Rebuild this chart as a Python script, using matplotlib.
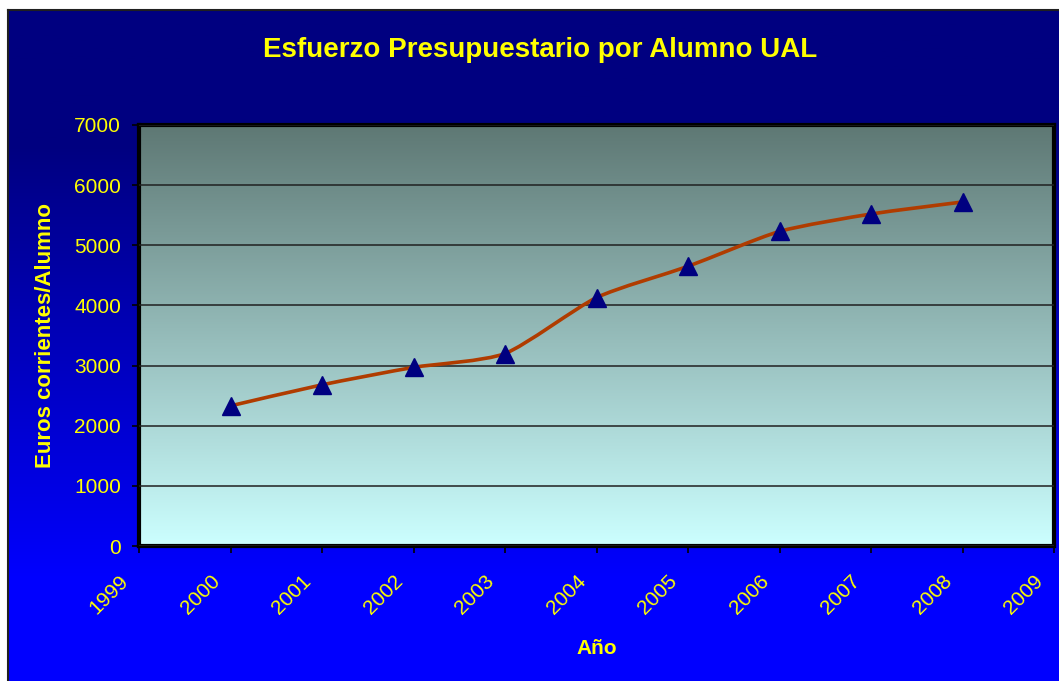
import numpy as np
import matplotlib
matplotlib.use("Agg")
import matplotlib.pyplot as plt
import matplotlib.transforms as mtransforms
from matplotlib.path import Path
from matplotlib.patches import PathPatch
from matplotlib.colors import LinearSegmentedColormap

plt.rcParams['font.family'] = ['Liberation Sans', 'DejaVu Sans']

# Datos
years = [2000, 2001, 2002, 2003, 2004, 2005, 2006, 2007, 2008]
euros = [2330, 2680, 2970, 3200, 4130, 4650, 5230, 5520, 5720]
yticks = [0, 1000, 2000, 3000, 4000, 5000, 6000, 7000]
xticks = list(range(1999, 2010))

YELLOW = '#FFFF00'
LINE = '#B03C00'
MARK = '#000080'

W, H = 1059, 681
fig = plt.figure(figsize=(W / 100, H / 100), dpi=100)
fig.patch.set_facecolor('white')

# fondo degradado de la figura
bg = fig.add_axes([8 / W, 0, 1 - 8 / W, (H - 10) / H], zorder=-5)
bg_cmap = LinearSegmentedColormap.from_list('bg', [(0, '#000080'), (0.2, '#000080'), (0.85, '#0000FF'), (1, '#0000FF')])
bg.imshow(np.linspace(0, 1, 256).reshape(-1, 1), cmap=bg_cmap, aspect='auto', extent=[0, 1, 1, 0])
bg.set_xlim(0, 1)
bg.set_ylim(1, 0)
for s in ['top', 'left']:
    bg.spines[s].set_color('#202020')
    bg.spines[s].set_linewidth(1.5)
for s in ['bottom', 'right']:
    bg.spines[s].set_visible(False)
bg.set_xticks([])
bg.set_yticks([])

# area del grafico
left, right, top, bottom = 139, 1054, 125, 546
ax = fig.add_axes([left / W, (H - bottom) / H, (right - left) / W, (bottom - top) / H])
pa_cmap = LinearSegmentedColormap.from_list('pa', ['#5E7874', '#CCFFFF'])
ax.imshow(np.linspace(0, 1, 256).reshape(-1, 1), cmap=pa_cmap, aspect='auto',
          extent=[0, 1, 0, 1], origin='upper', transform=ax.transAxes, zorder=0)

ax.set_xlim(1999, 2009)
ax.set_ylim(0, 7000)
ax.set_yticks(yticks)
ax.set_xticks(xticks)
ax.grid(axis='y', color='#202020', linewidth=1.1, zorder=1)
ax.set_axisbelow(False)

# linea suavizada (Catmull-Rom en Bezier)
pts = np.column_stack([years, euros]).astype(float)
verts = [pts[0]]
codes = [Path.MOVETO]
t = 1 / 9
for i in range(len(pts) - 1):
    p0 = pts[i - 1] if i > 0 else pts[i]
    p1 = pts[i]
    p2 = pts[i + 1]
    p3 = pts[i + 2] if i + 2 < len(pts) else pts[i + 1]
    c1 = p1 + (p2 - p0) * t
    c2 = p2 - (p3 - p1) * t
    verts += [c1, c2, p2]
    codes += [Path.CURVE4] * 3
ax.add_patch(PathPatch(Path(verts, codes), facecolor='none', edgecolor=LINE, linewidth=2.6, zorder=3))
ax.plot(years, euros, linestyle='none', marker='^', markersize=13, color=MARK, zorder=4)

for s in ax.spines.values():
    s.set_color('black')
    s.set_linewidth(3)
ax.tick_params(axis='both', colors='black', length=5, width=1.2, direction='out', labelsize=15,
               labelcolor=YELLOW)
ax.tick_params(axis='y', pad=8)
ax.tick_params(axis='x', pad=23)
shift = mtransforms.ScaledTranslation(-7 / 100, 0, fig.dpi_scale_trans)
for lbl in ax.get_xticklabels():
    lbl.set_rotation(45)
    lbl.set_ha('right')
    lbl.set_va('bottom')
    lbl.set_rotation_mode('anchor')
    lbl.set_transform(lbl.get_transform() + shift)

ax.set_ylabel('Euros corrientes/Alumno', color=YELLOW, fontsize=16, fontweight='bold', labelpad=13)
ax.set_xlabel('Año', color=YELLOW, fontsize=15, fontweight='bold', labelpad=15)

fig.text(540 / W, 1 - 50 / H, 'Esfuerzo Presupuestario por Alumno UAL', color=YELLOW,
         fontsize=20, fontweight='bold', ha='center', va='center')

fig.savefig('out.png', dpi=100, facecolor=fig.get_facecolor())
